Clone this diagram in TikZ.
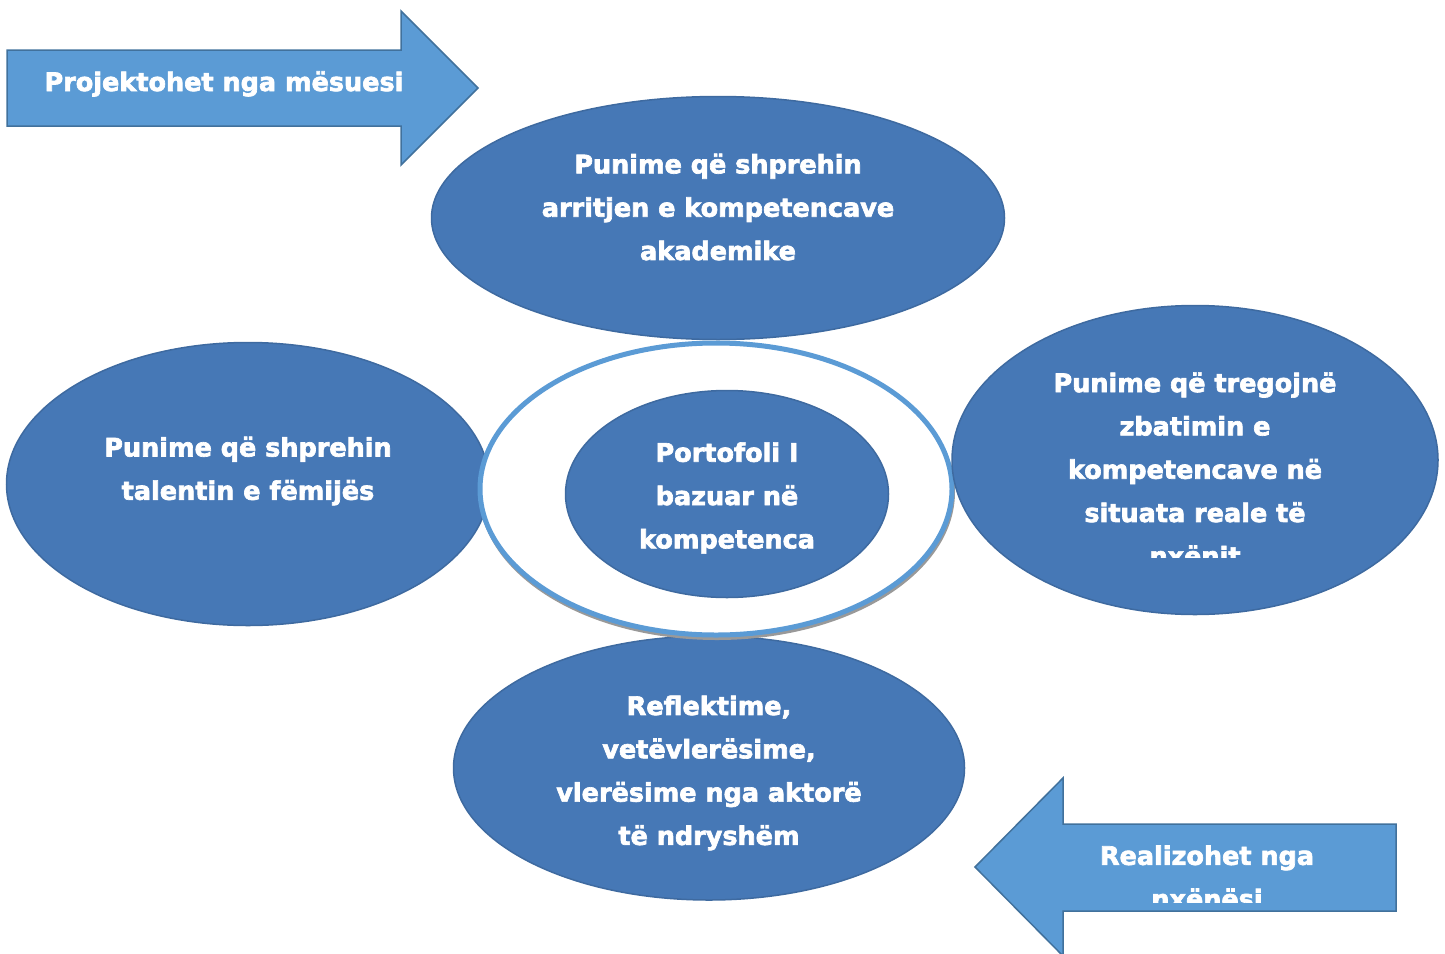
\documentclass[tikz,border=0pt]{standalone}
\usepackage{fontspec}
\setmainfont{DejaVu Sans}
\newfontfamily\heavyfont{DejaVu Sans Bold}[FakeBold=2.6]
\usetikzlibrary{shapes.geometric}
\definecolor{ellfill}{RGB}{70,120,182}
\definecolor{ellline}{RGB}{62,106,160}
\definecolor{arrfill}{RGB}{91,155,213}
\definecolor{arrline}{RGB}{65,113,156}
\definecolor{ringblue}{RGB}{91,155,213}
\tikzset{
  blob/.style={ellipse, fill=ellfill, draw=ellline, line width=1.5pt, inner sep=0pt},
  txt/.style={text=white, align=center, font=\heavyfont\bfseries\fontsize{25.5}{43.3}\selectfont, inner sep=0pt},
  arrowshape/.style={fill=arrfill, draw=arrline, line width=1.5pt, line join=miter},
}
\begin{document}
\begin{tikzpicture}[x=1pt,y=-1pt]
\useasboundingbox (0,0) rectangle (1445,953);
% top-left arrow
\draw[arrowshape] (7,50) -- (401,50) -- (401,11) -- (478,88) -- (401,165) -- (401,126) -- (7,126) -- cycle;
\node[txt, anchor=base] (tlabel) at (224,91) {Projektohet nga mësuesi};
% left ellipse
\node[blob, minimum width=483pt, minimum height=283pt] (left) at (248,484) {};
\node[txt] (lefttxt) at (248,471) {Punime që shprehin\\talentin e fëmijës};
% top ellipse
\node[blob, minimum width=573pt, minimum height=243pt] (top) at (718,218) {};
\node[txt] (toptxt) at (718,207) {Punime që shprehin\\arritjen e kompetencave\\akademike};
% bottom ellipse
\node[blob, minimum width=511pt, minimum height=264pt] (bottom) at (709,768) {};
\node[txt] (bottomtxt) at (709,773) {Reflektime,\\vetëvlerësime,\\vlerësime nga aktorë\\të ndryshëm};
% ring
\draw[gray!80, line width=4pt] (717,492) ellipse [x radius=236, y radius=146];
\node[ellipse, draw=ringblue, fill=white, line width=5pt, minimum width=472pt, minimum height=292pt] (ring) at (716,489) {};
% center ellipse
\node[blob, minimum width=323pt, minimum height=207pt] (center) at (727,494) {};
\node[txt] (centertxt) at (727,498) {Portofoli I\\bazuar në\\kompetenca};
% right ellipse
\node[blob, minimum width=486pt, minimum height=309pt] (right) at (1195,460) {};
\begin{scope}
\clip (950,300) rectangle (1440,557);
\node[txt] (righttxt) at (1195,469) {Punime që tregojnë\\zbatimin e\\kompetencave në\\situata reale të\\nxënit};
\end{scope}
% bottom-right arrow
\draw[arrowshape] (1396,824) -- (1063,824) -- (1063,778) -- (975,867) -- (1063,956) -- (1063,911) -- (1396,911) -- cycle;
\begin{scope}
\clip (1070,830) rectangle (1390,902);
\node[txt] (brlabel) at (1207,877) {Realizohet nga\\nxënësi};
\end{scope}
\end{tikzpicture}
\end{document}
